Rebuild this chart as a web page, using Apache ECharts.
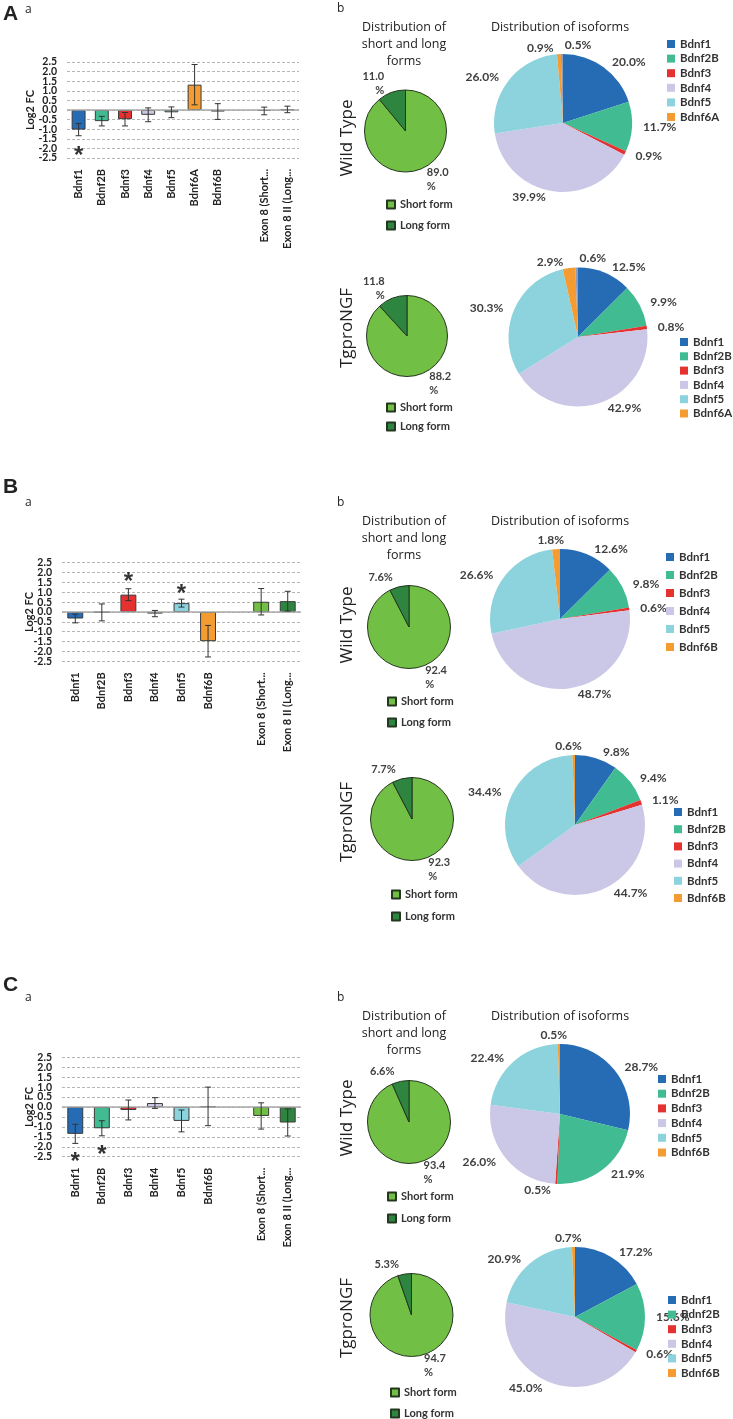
<!DOCTYPE html>
<html><head><meta charset="utf-8">
<script src="https://cdn.jsdelivr.net/npm/echarts@6/dist/echarts.min.js"></script>
<style>html,body{margin:0;padding:0;background:#fff}#c{width:733px;height:1419px}</style>
</head><body><div id="c"></div>
<script>
// ---------- data ----------
const catsA = ['Bdnf1','Bdnf2B','Bdnf3','Bdnf4','Bdnf5','Bdnf6A','Bdnf6B','','Exon 8 (Short...','Exon 8 II (Long...'];
const fcA   = [-1.02,-0.58,-0.48,-0.25,-0.12,1.32,-0.08,null,-0.05,0.03];
const errA  = [0.32,0.25,0.35,0.36,0.28,1.05,0.41,null,0.20,0.17];
const starA = [-2.1,null,null,null,null,null,null,null,null,null];

const catsBC = ['Bdnf1','Bdnf2B','Bdnf3','Bdnf4','Bdnf5','Bdnf6B','','Exon 8 (Short...','Exon 8 II (Long...'];
const fcB   = [-0.33,-0.02,0.88,-0.08,0.45,-1.48,null,0.52,0.55];
const errB  = [0.22,0.43,0.30,0.16,0.20,0.80,null,0.67,0.50];
const starB = [null,null,1.8,null,1.2,null,null,null,null];
const fcC   = [-1.35,-1.07,-0.15,0.20,-0.70,0.03,null,-0.45,-0.78];
const errC  = [0.48,0.38,0.50,0.27,0.55,0.97,null,0.66,0.68];
const starC = [-2.5,-2.15,null,null,null,null,null,null,null];

// y tick labels (split over two overlaid axes so none is dropped)
const yMin = -2.5, yMax = 2.5, yStep = 0.5;
const yTicksOdd  = [-2.5,-1.5,-0.5,0.5,1.5,2.5];
const yTicksEven = [-2.0,-1.0,0.0,1.0,2.0];
const yTitle = 'Log2 FC';

const isoNamesA  = ['Bdnf1','Bdnf2B','Bdnf3','Bdnf4','Bdnf5','Bdnf6A','Bdnf6B'];
const isoA_WT    = [20.0,11.7,0.9,39.9,26.0,0.9,0.5];
const isoA_Tg    = [12.5,9.9,0.8,42.9,30.3,2.9,0.6];
const isoNamesBC = ['Bdnf1','Bdnf2B','Bdnf3','Bdnf4','Bdnf5','Bdnf6B'];
const isoB_WT    = [12.6,9.8,0.6,48.7,26.6,1.8];
const isoB_Tg    = [9.8,9.4,1.1,44.7,34.4,0.6];
const isoC_WT    = [28.7,21.9,0.5,26.0,22.4,0.5];
const isoC_Tg    = [17.2,15.6,0.6,45.0,20.9,0.7];

const formNames = ['Short form','Long form'];
const formA_WT = [89.0,11.0];
const formA_Tg = [88.2,11.8];
const formB_WT = [92.4,7.6];
const formB_Tg = [92.3,7.7];
const formC_WT = [93.4,6.6];
const formC_Tg = [94.7,5.3];

// ---------- styles ----------
const F = 'Lato, "Open Sans", sans-serif';
const FT = '"Open Sans", sans-serif';
const COL = {Bdnf1:'#256cb4',Bdnf2B:'#40bb92',Bdnf3:'#e5312f',Bdnf4:'#cbc7e6',Bdnf5:'#8dd3dd',Bdnf6A:'#f49c31',Bdnf6B:'#f49c31',
             'Short form':'#72bf45','Long form':'#2e8540'};
const barColA  = [COL.Bdnf1,COL.Bdnf2B,COL.Bdnf3,COL.Bdnf4,COL.Bdnf5,COL.Bdnf6A,'#7db457',null,'#2e8540','#72bf45'];
const barColBC = [COL.Bdnf1,COL.Bdnf2B,COL.Bdnf3,COL.Bdnf4,COL.Bdnf5,COL.Bdnf6B,null,'#72bf45','#2e8540'];

const grids = [
  {left:67, top:62, width:232, height:96},
  {left:62, top:562.7, width:239, height:98.6},
  {left:62, top:1057.3, width:239, height:99.4}
];

function xAx(i, cats){
  return {type:'category', gridIndex:i, data:cats, axisLine:{show:false}, axisTick:{show:false},
    axisLabel:{rotate:90, interval:0, margin:11, fontFamily:F, fontWeight:'bold', fontSize:11, color:'#222'}};
}
const yLabelStyle = {formatter:v=>v.toFixed(1), margin:10, showMinLabel:true, showMaxLabel:true,
  fontFamily:F, fontWeight:'bold', fontSize:10.5, color:'#222'};
function yAx(i){
  return {type:'value', gridIndex:i, min:yMin, max:yMax, interval:yStep, position:'left',
    axisLine:{show:false}, axisTick:{show:false},
    axisLabel:Object.assign({customValues:yTicksOdd}, yLabelStyle),
    splitLine:{show:true, lineStyle:{type:[3,2], color:'#b5b5b5', width:1}}};
}
function yAx2(i){
  return {type:'value', gridIndex:i, min:yMin, max:yMax, interval:yStep, position:'left', offset:0,
    axisLine:{show:false}, axisTick:{show:false}, splitLine:{show:false},
    axisLabel:Object.assign({customValues:yTicksEven}, yLabelStyle)};
}
function barSeries(i, fc, err, star, colors){
  const out = [];
  out.push({type:'bar', xAxisIndex:i, yAxisIndex:i, barWidth:'60%',
    data: fc.map((v,k)=> v==null ? '-' : {value:v, itemStyle:{color:colors[k]}}),
    itemStyle:{borderColor:'#3a3a3a', borderWidth:1},
    markLine:{silent:true, symbol:'none', label:{show:false}, lineStyle:{type:'solid', color:'#a8a8a8', width:1.5}, data:[{yAxis:0}]}
  });
  out.push({type:'custom', xAxisIndex:i, yAxisIndex:i, z:5,
    data: fc.map((v,k)=> v==null ? null : [k, v, err[k]]).filter(Boolean),
    renderItem:(params, api)=>{
      const x = api.value(0), v = api.value(1), e = api.value(2);
      const t = api.coord([x, v+e]), b = api.coord([x, v-e]);
      const w = 3, st = {stroke:'#333', lineWidth:1};
      return {type:'group', children:[
        {type:'line', shape:{x1:t[0], y1:t[1], x2:b[0], y2:b[1]}, style:st},
        {type:'line', shape:{x1:t[0]-w, y1:t[1], x2:t[0]+w, y2:t[1]}, style:st},
        {type:'line', shape:{x1:b[0]-w, y1:b[1], x2:b[0]+w, y2:b[1]}, style:st}
      ]};
    }
  });
  out.push({type:'scatter', xAxisIndex:i, yAxisIndex:i, z:6, symbolSize:1, itemStyle:{color:'transparent'},
    data: star.map((v,k)=> v==null ? null : [k, v]).filter(Boolean),
    label:{show:true, position:'inside', formatter:'*', fontFamily:'"Liberation Sans"', fontWeight:'bold', fontSize:24, color:'#000', offset:[0,6]}
  });
  return out;
}
const fmtBig = p => p.value.toFixed(1) + '%';
const fmtSmall = p => p.value >= 10 ? p.value.toFixed(1) + '\n%' : p.value.toFixed(1) + '%';
// the last (tiny) slice closing the circle at 12 o'clock gets its label placed above/right of the top
function isoPie(names, vals, center, r){
  const last = names.length - 1;
  const seven = names.length === 7;
  return {type:'pie', center:center, radius:r, startAngle:90, clockwise:true, avoidLabelOverlap:false,
    data: names.map((n,k)=>({name:n, value:vals[k], itemStyle:{color: (seven && k===last) ? '#8f9dbd' : COL[n]}})),
    label:{show:true, position:'outside', formatter:fmtBig, fontFamily:F, fontWeight:'bold', fontSize:12, color:'#404040', distanceToLabelLine:2},
    labelLine:{show:false, length:6, length2:3},
    labelLayout: p => p.dataIndex === last ? (seven ? {align:'left', dx:8, dy:-3} : {align:'center', dy:-3}) : {},
    itemStyle:{borderWidth:0}, emphasis:{disabled:true}
  };
}
function formPie(vals, center, r){
  return {type:'pie', center:center, radius:r, startAngle:90, clockwise:true,
    data: formNames.map((n,k)=>({name:n, value:vals[k], itemStyle:{color:COL[n]}})),
    label:{show:true, position:'outside', formatter:fmtSmall, fontFamily:F, fontWeight:'bold', fontSize:11, color:'#404040', lineHeight:14, distanceToLabelLine:2},
    labelLine:{show:false, length:10, length2:2},
    itemStyle:{borderColor:'#25371f', borderWidth:1}, emphasis:{disabled:true}
  };
}
function isoLegend(names, left, top, gap){
  return {data:names, left:left, top:top, orient:'vertical', itemWidth:8, itemHeight:8, itemGap:gap, padding:0,
    icon:'rect', selectedMode:false, textStyle:{fontFamily:F, fontWeight:'bold', fontSize:11.5, color:'#333'}};
}
function formLegend(left, top, gap){
  return {data:formNames, left:left, top:top, orient:'vertical', itemWidth:8, itemHeight:8, itemGap:gap, padding:0,
    icon:'rect', selectedMode:false, textStyle:{fontFamily:F, fontWeight:'bold', fontSize:11, color:'#333'}};
}
function txt(x, y, text, font, opts){
  const o = Object.assign({align:'center', valign:'middle', rot:0, lh:null}, opts||{});
  return {type:'text', x:x, y:y, rotation:o.rot, silent:true,
    style:{text:text, font:font, fill:'#222', align:o.align, verticalAlign:o.valign, textAlign:o.align, textVerticalAlign:o.valign, lineHeight:o.lh||undefined}};
}
const fLetter = 'bold 21px "Liberation Sans", sans-serif';
const fSmall = '12px ' + FT;
const fTitle = '12.5px ' + FT;
const fSide = '17px ' + FT;
const fYName = 'bold 11px ' + F;
const titleSL = 'Distribution of\nshort and long\nforms';
const titleIso = 'Distribution of isoforms';
const up = Math.PI/2;

const graphics = [
  txt(3, 14, 'A', fLetter, {align:'left'}), txt(25, 10, 'a', fSmall, {align:'left'}),
  txt(3, 487, 'B', fLetter, {align:'left'}), txt(25, 503, 'a', fSmall, {align:'left'}),
  txt(3, 985, 'C', fLetter, {align:'left'}), txt(25, 998, 'a', fSmall, {align:'left'}),
  txt(30, grids[0].top + grids[0].height/2, yTitle, fYName, {rot:up}),
  txt(29, grids[1].top + grids[1].height/2, yTitle, fYName, {rot:up}),
  txt(29, grids[2].top + grids[2].height/2, yTitle, fYName, {rot:up}),
  txt(337, 9, 'b', fSmall, {align:'left'}), txt(337, 503, 'b', fSmall, {align:'left'}), txt(337, 998, 'b', fSmall, {align:'left'}),
  txt(404, 44, titleSL, fTitle, {lh:17}), txt(560, 27, titleIso, fTitle),
  txt(404, 538, titleSL, fTitle, {lh:17}), txt(560, 521, titleIso, fTitle),
  txt(404, 1033, titleSL, fTitle, {lh:17}), txt(560, 1016, titleIso, fTitle),
  txt(347, 138, 'Wild Type', fSide, {rot:up}), txt(347, 328, 'TgproNGF', fSide, {rot:up}),
  txt(347, 625, 'Wild Type', fSide, {rot:up}), txt(347, 822, 'TgproNGF', fSide, {rot:up}),
  txt(347, 1118, 'Wild Type', fSide, {rot:up}), txt(347, 1318, 'TgproNGF', fSide, {rot:up})
];

const series = [].concat(
  barSeries(0, fcA, errA, starA, barColA),
  barSeries(1, fcB, errB, starB, barColBC),
  barSeries(2, fcC, errC, starC, barColBC),
  [
    isoPie(isoNamesBC, isoB_WT, [560,619], 70),
    isoPie(isoNamesBC, isoB_Tg, [575,825], 70),
    isoPie(isoNamesBC, isoC_WT, [560,1114], 70),
    isoPie(isoNamesBC, isoC_Tg, [575,1317], 70),
    isoPie(isoNamesA, isoA_WT, [563,123], 69),
    isoPie(isoNamesA, isoA_Tg, [578,337], 69.5),
    formPie(formA_WT, [405.5,131], 41),
    formPie(formA_Tg, [407,336], 40.5),
    formPie(formB_WT, [409,627], 41.5),
    formPie(formB_Tg, [412,819], 41.5),
    formPie(formC_WT, [409,1122], 41.5),
    formPie(formC_Tg, [411.5,1315], 41.5)
  ]
);

const chart = echarts.init(document.getElementById('c'), null, {renderer:'canvas'});
chart.setOption({
  backgroundColor:'#fff',
  animation:false,
  grid: grids,
  xAxis: [xAx(0, catsA), xAx(1, catsBC), xAx(2, catsBC)],
  yAxis: [yAx(0), yAx(1), yAx(2), yAx2(0), yAx2(1), yAx2(2)],
  legend: [
    isoLegend(isoNamesA.slice(0,6), 667, 38, 2.6),
    isoLegend(isoNamesA.slice(0,6), 680, 336, 2.3),
    isoLegend(isoNamesBC, 666, 551, 6),
    isoLegend(isoNamesBC, 674, 806, 5.2),
    isoLegend(isoNamesBC, 658, 1073, 2.7),
    isoLegend(isoNamesBC, 668, 1294, 2.6),
    formLegend(386, 199, 10),
    formLegend(386, 402, 8),
    formLegend(387, 696, 10),
    formLegend(391, 889, 11),
    formLegend(387, 1191, 11),
    formLegend(390, 1387, 10)
  ],
  graphic: graphics,
  series: series
});
</script></body></html>
